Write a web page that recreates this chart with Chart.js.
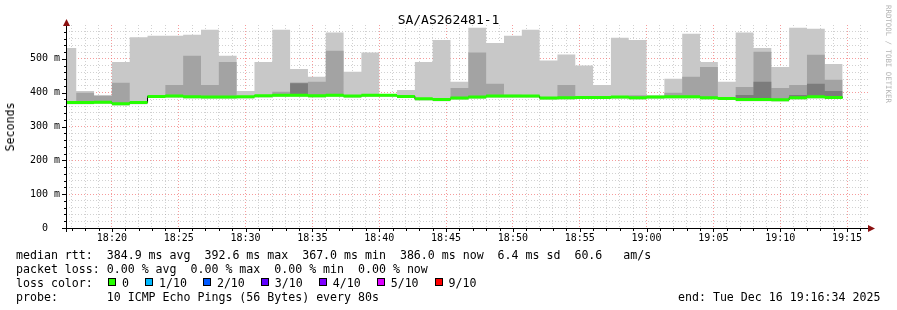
<!DOCTYPE html>
<html>
<head>
<meta charset="utf-8">
<script src="https://cdn.jsdelivr.net/npm/chart.js@4.4.1/dist/chart.umd.min.js"></script>
<style>
  body { margin: 0; background: #fff; }
  #wrap { position: relative; width: 897px; height: 310px; font-family: "DejaVu Sans Mono", monospace; color: #000; overflow: hidden; }
  #wrap canvas { position: absolute; left: 0; top: 0; }
  .txt { position: absolute; white-space: pre; font-size: 11.6px; line-height: 14px; }
  #title { position: absolute; left: 0; top: 13px; width: 897px; text-align: center; font-size: 13px; line-height: 13px; }
  #ylabel { position: absolute; left: 10px; top: 127px; font-size: 11.6px; transform: translate(-50%, -50%) rotate(-90deg); white-space: pre; }
  #mark { position: absolute; left: 884px; top: 5px; font-size: 7.4px; color: #b4b4b4; writing-mode: vertical-rl; white-space: pre; }
  .box { display: inline-block; width: 6px; height: 6px; border: 1px solid #000; margin-right: 6px; vertical-align: 1px; }
  .lbl { margin-right: 16px; }
</style>
</head>
<body>
<div id="wrap">
  <canvas id="chart" width="897" height="310"></canvas>
  <div id="title">SA/AS262481-1</div>
  <div id="ylabel">Seconds</div>
  <div id="mark">RRDTOOL / TOBI OETIKER</div>
  <div class="txt" style="left:16px;top:247.5px">median rtt:  384.9 ms avg  392.6 ms max  367.0 ms min  386.0 ms now  6.4 ms sd  60.6   am/s</div>
  <div class="txt" style="left:16px;top:261.5px">packet loss: 0.00 % avg  0.00 % max  0.00 % min  0.00 % now</div>
  <div class="txt" style="left:16px;top:275.5px">loss color:</div>
  <div class="txt" id="losscolors" style="left:108px;top:275.5px"></div>
  <div class="txt" style="left:16px;top:289.5px">probe:       10 ICMP Echo Pings (56 Bytes) every 80s</div>
  <div class="txt" style="left:678px;top:289.5px">end: Tue Dec 16 19:16:34 2025</div>
</div>
<script>
// time window of the graph
var windowStart = "18:16:34";
var windowEnd = "19:16:34";

// start of every 80 s column (the first one is cut by the window start)
var colStarts = [
  "18:16:34", "18:17:20", "18:18:40", "18:20:00", "18:21:20", "18:22:40", "18:24:00", "18:25:20",
  "18:26:40", "18:28:00", "18:29:20", "18:30:40", "18:32:00", "18:33:20", "18:34:40", "18:36:00",
  "18:37:20", "18:38:40", "18:40:00", "18:41:20", "18:42:40", "18:44:00", "18:45:20", "18:46:40",
  "18:48:00", "18:49:20", "18:50:40", "18:52:00", "18:53:20", "18:54:40", "18:56:00", "18:57:20",
  "18:58:40", "19:00:00", "19:01:20", "19:02:40", "19:04:00", "19:05:20", "19:06:40", "19:08:00",
  "19:09:20", "19:10:40", "19:12:00", "19:13:20"
];
var lastColEnd = "19:14:40";

// median rtt per column (ms)
var medianRtt = [371, 371, 372, 367, 371, 389, 390, 388, 387, 387, 388, 391, 392, 392, 391,
                 392, 390, 392, 392, 389, 382, 380, 384, 387, 390, 390, 390, 384, 385, 386,
                 386, 387, 385, 387, 388, 388, 385, 383, 380, 380, 379, 385, 388, 386];
// lowest and highest ping per column (ms)
var minRtt = [366, 366, 367, 362, 366, 384, 385, 383, 382, 382, 383, 386, 388, 388, 386,
              387, 385, 387, 388, 384, 377, 375, 379, 382, 385, 385, 385, 379, 380, 381,
              381, 382, 380, 382, 383, 383, 380, 378, 375, 375, 374, 380, 383, 381];
var maxRtt = [532, 405, 393, 491, 564, 568, 568, 571, 586, 509, 405, 491, 586, 470, 447,
              578, 462, 519, 396, 408, 491, 556, 432, 592, 547, 568, 586, 495, 513, 480,
              423, 562, 556, 392, 441, 574, 491, 432, 578, 532, 476, 592, 589, 485];
// inner smoke bands (null = no band in that column)
var midRtt = [null, 400, 390, 429, null, null, 423, 509, 423, 491, null, null, 403, 430, 432,
              524, null, null, null, null, null, null, 414, 519, 426, 394, null, null, 423, null,
              null, 390, 392, null, 400, 447, 476, null, 417, 521, 414, 423, 512, 438];
var innerRtt = [null, null, null, null, null, null, null, null, null, null, null, null, null, 428, null,
                null, null, null, null, null, null, null, null, null, null, null, null, null, null, null,
                null, null, null, null, null, null, null, null, 393, 432, null, 393, 426, 405];

// loss colour legend
var lossLabels = ["0", "1/10", "2/10", "3/10", "4/10", "5/10", "9/10"];
var lossColors = ["#26ff00", "#00b8ff", "#0059ff", "#5e00ff", "#7e00ff", "#dd00ff", "#ff0000"];

var lossDiv = document.getElementById("losscolors");
lossLabels.forEach(function(l, i) {
    var b = document.createElement("span");
    b.className = "box";
    b.style.background = lossColors[i];
    var t = document.createElement("span");
    t.className = "lbl";
    t.textContent = l;
    lossDiv.appendChild(b);
    lossDiv.appendChild(t);
});

function toMin(s) {
    var p = s.split(":").map(Number);
    return p[0] * 60 + p[1] + p[2] / 60;
}

var xs = colStarts.map(toMin);
var xEnd = toMin(lastColEnd);

function steps(vals) {
    var pts = vals.map(function(v, i) { return { x: xs[i], y: v }; });
    pts.push({ x: xEnd, y: vals[vals.length - 1] });
    return pts;
}

// horizontal pieces only, so the vertical joins stay black
function flats(vals) {
    var pts = [];
    vals.forEach(function(v, i) {
        var e = i + 1 < xs.length ? xs[i + 1] : xEnd;
        pts.push({ x: xs[i], y: v }, { x: e, y: v }, { x: e, y: null });
    });
    return pts;
}

var midTop = midRtt.map(function(v, i) { return v === null ? medianRtt[i] : v; });
var innerTop = innerRtt.map(function(v, i) { return v === null ? medianRtt[i] : v; });

var minorGrid = "rgba(140,140,140,0.4)";
var majorGrid = "rgba(240,90,90,0.6)";

var axesPlugin = {
    id: "rrdAxes",
    afterDraw: function(chart) {
        var ctx = chart.ctx, a = chart.chartArea;
        var xs_ = chart.scales.x, ys_ = chart.scales.y;
        ctx.save();
        ctx.fillStyle = "#000";
        // ticks
        xs_.ticks.forEach(function(t) {
            var px = Math.round(xs_.getPixelForValue(t.value));
            ctx.fillRect(px, a.bottom + 1, 1, t.value % 5 === 0 ? 3 : 2);
        });
        ys_.ticks.forEach(function(t) {
            var py = Math.round(ys_.getPixelForValue(t.value));
            var len = t.value % 100 === 0 ? 4 : 2;
            ctx.fillRect(a.left - len, py, len, 1);
        });
        // axis lines
        ctx.fillRect(a.left - 4, a.bottom, a.right - a.left + 4, 1);
        ctx.fillRect(a.left, a.top - 3, 1, a.bottom - a.top + 7);
        // arrows
        ctx.fillStyle = "#8b1010";
        ctx.beginPath();
        ctx.moveTo(a.right + 7, a.bottom + 0.5);
        ctx.lineTo(a.right, a.bottom - 3);
        ctx.lineTo(a.right, a.bottom + 4);
        ctx.closePath();
        ctx.fill();
        ctx.beginPath();
        ctx.moveTo(a.left + 0.5, a.top - 6);
        ctx.lineTo(a.left - 3, a.top + 1);
        ctx.lineTo(a.left + 4, a.top + 1);
        ctx.closePath();
        ctx.fill();
        ctx.restore();
    }
};

var ctx = document.getElementById("chart").getContext("2d");
var chart = new Chart(ctx, {
    type: "line",
    data: {
        datasets: [
            { data: flats(medianRtt), borderColor: "#26ff00", borderWidth: 3, borderCapStyle: "butt", order: 0 },
            { data: steps(medianRtt), stepped: true, borderColor: "#000", borderWidth: 1, order: 1 },
            { data: steps(innerTop), stepped: true, borderColor: "transparent", backgroundColor: "#7c7c7c", fill: 3, order: 2 },
            { data: steps(medianRtt), stepped: true, borderColor: "transparent", order: 2 },
            { data: steps(midTop), stepped: true, borderColor: "transparent", backgroundColor: "#a3a3a3", fill: 5, order: 3 },
            { data: steps(medianRtt), stepped: true, borderColor: "transparent", order: 3 },
            { data: steps(maxRtt), stepped: true, borderColor: "transparent", backgroundColor: "#c8c8c8", fill: 7, order: 4 },
            { data: steps(minRtt), stepped: true, borderColor: "transparent", order: 4 }
        ]
    },
    options: {
        responsive: false,
        animation: false,
        devicePixelRatio: 1,
        layout: { padding: { left: 0, top: 25, right: 29, bottom: 62 } },
        elements: { point: { radius: 0 }, line: { tension: 0 } },
        plugins: { legend: { display: false }, tooltip: { enabled: false }, title: { display: false } },
        scales: {
            x: {
                type: "linear",
                min: toMin(windowStart),
                max: toMin(windowEnd),
                z: 1,
                afterBuildTicks: function(scale) {
                    var t = [];
                    for (var m = Math.ceil(scale.min); m <= scale.max; m++) t.push({ value: m });
                    scale.ticks = t;
                },
                afterFit: function(scale) { scale.height = 20; },
                grid: {
                    drawTicks: false,
                    color: function(c) { return c.tick && c.tick.value % 5 === 0 ? majorGrid : minorGrid; }
                },
                border: { display: false, dash: [1, 2] },
                ticks: {
                    autoSkip: false,
                    maxRotation: 0,
                    padding: 4,
                    color: "#000",
                    font: { family: "DejaVu Sans Mono", size: 10 },
                    callback: function(v) {
                        if (v % 5 !== 0) return "";
                        var h = Math.floor(v / 60), m = v % 60;
                        return h + ":" + (m < 10 ? "0" : "") + m;
                    }
                }
            },
            y: {
                min: 0,
                max: 600,
                z: 1,
                afterBuildTicks: function(scale) {
                    var t = [];
                    for (var v = 0; v < 600; v += 20) t.push({ value: v });
                    scale.ticks = t;
                },
                afterFit: function(scale) { scale.width = 66; },
                grid: {
                    drawTicks: false,
                    color: function(c) { return c.tick && c.tick.value % 100 === 0 ? majorGrid : minorGrid; }
                },
                border: { display: false, dash: [1, 2] },
                ticks: {
                    autoSkip: false,
                    padding: 6,
                    color: "#000",
                    font: { family: "DejaVu Sans Mono", size: 10 },
                    callback: function(v) {
                        if (v % 100 !== 0) return "";
                        return v === 0 ? "0  " : v + " m";
                    }
                }
            }
        }
    },
    plugins: [axesPlugin]
});
</script>
</body>
</html>
